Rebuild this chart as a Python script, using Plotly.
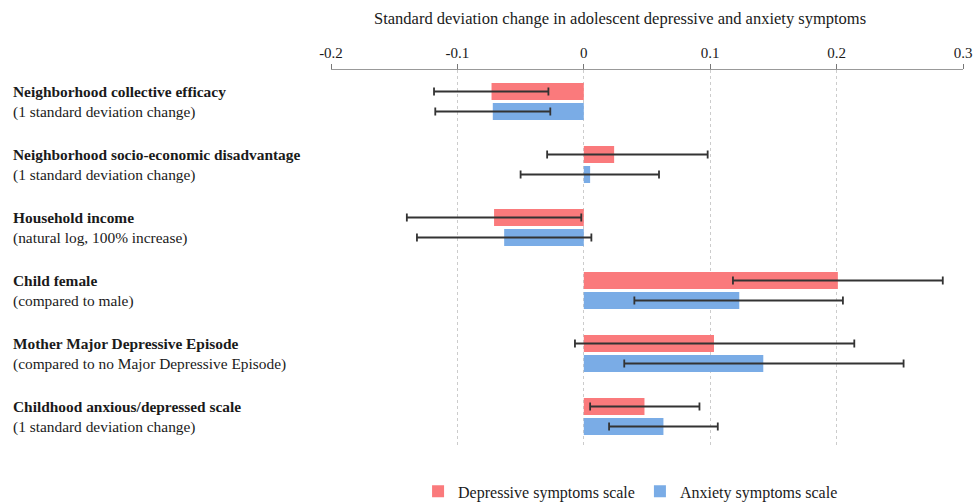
import plotly.graph_objects as go

categories = [
    "Neighborhood collective efficacy",
    "Neighborhood socio-economic disadvantage",
    "Household income",
    "Child female",
    "Mother Major Depressive Episode",
    "Childhood anxious/depressed scale",
]
subtitles = [
    "(1 standard deviation change)",
    "(1 standard deviation change)",
    "(natural log, 100% increase)",
    "(compared to male)",
    "(compared to no Major Depressive Episode)",
    "(1 standard deviation change)",
]
dep_values = [-0.073, 0.024, -0.071, 0.201, 0.103, 0.048]
dep_low = [-0.1185, -0.029, -0.140, 0.118, -0.007, 0.005]
dep_high = [-0.028, 0.098, -0.002, 0.284, 0.214, 0.0915]
anx_values = [-0.072, 0.005, -0.063, 0.123, 0.142, 0.063]
anx_low = [-0.1175, -0.050, -0.132, 0.040, 0.032, 0.020]
anx_high = [-0.0265, 0.0595, 0.006, 0.205, 0.253, 0.106]
tick_vals = [-0.2, -0.1, 0, 0.1, 0.2, 0.3]
tick_text = ["-0.2", "-0.1", "0", "0.1", "0.2", "0.3"]

FONT = "Liberation Serif"
RED = "rgb(250,122,124)"
BLUE = "rgb(122,172,230)"
TXT = "#1a1a1a"

def err(vals, lo, hi):
    return dict(
        type="data", symmetric=False,
        array=[h - v for v, h in zip(vals, hi)],
        arrayminus=[v - l for v, l in zip(vals, lo)],
        color="#333333", thickness=1.8, width=4,
    )

fig = go.Figure()
fig.add_trace(go.Bar(
    name="Depressive symptoms scale", y=categories, x=dep_values, orientation="h",
    marker=dict(color=RED, line=dict(width=0)), error_x=err(dep_values, dep_low, dep_high),
))
fig.add_trace(go.Bar(
    name="Anxiety symptoms scale", y=categories, x=anx_values, orientation="h",
    marker=dict(color=BLUE, line=dict(width=0)), error_x=err(anx_values, anx_low, anx_high),
))

LX = -(331 - 11) / 632
annotations = []
for c, s in zip(categories, subtitles):
    annotations.append(dict(
        x=LX, xref="paper", y=c, yref="y", xanchor="left", yanchor="middle",
        text="<b>" + c + "</b>", showarrow=False, yshift=10,
        font=dict(family=FONT, size=15.4, color=TXT),
    ))
    annotations.append(dict(
        x=LX, xref="paper", y=c, yref="y", xanchor="left", yanchor="middle",
        text=s, showarrow=False, yshift=-10,
        font=dict(family=FONT, size=15.4, color=TXT),
    ))
annotations.append(dict(
    x=0.457, xref="paper", y=1, yref="paper", yshift=52, xanchor="center", yanchor="middle",
    text="Standard deviation change in adolescent depressive and anxiety symptoms",
    showarrow=False, font=dict(family=FONT, size=16.5, color=TXT),
))

fig.update_layout(
    width=979, height=502,
    margin=dict(l=331, r=16, t=70, b=54, autoexpand=False),
    paper_bgcolor="white", plot_bgcolor="white",
    barmode="group", bargap=0.365, bargroupgap=0.15,
    font=dict(family=FONT, size=15, color=TXT),
    showlegend=True,
    legend=dict(orientation="h", x=0.474, xanchor="center", y=-0.115, yanchor="middle",
                font=dict(family=FONT, size=16, color=TXT), itemwidth=30,
                traceorder="normal"),
    annotations=annotations,
    xaxis=dict(
        side="top", range=[-0.2, 0.3], tickvals=tick_vals, ticktext=tick_text,
        showline=True, linecolor="#999999", linewidth=1,
        ticks="outside", ticklen=5, tickcolor="#777777",
        showgrid=True, gridcolor="#cccccc", griddash="dot", gridwidth=1,
        zeroline=False, automargin=False,
        tickfont=dict(family=FONT, size=15, color=TXT),
    ),
    yaxis=dict(
        autorange="reversed", showticklabels=False, showgrid=False,
        zeroline=False, showline=False, ticks="", automargin=False,
    ),
)

fig.write_html(
    "out.html",
    config={"displayModeBar": False},
    post_script="document.body.style.margin='0';document.body.style.overflow='hidden';",
)
